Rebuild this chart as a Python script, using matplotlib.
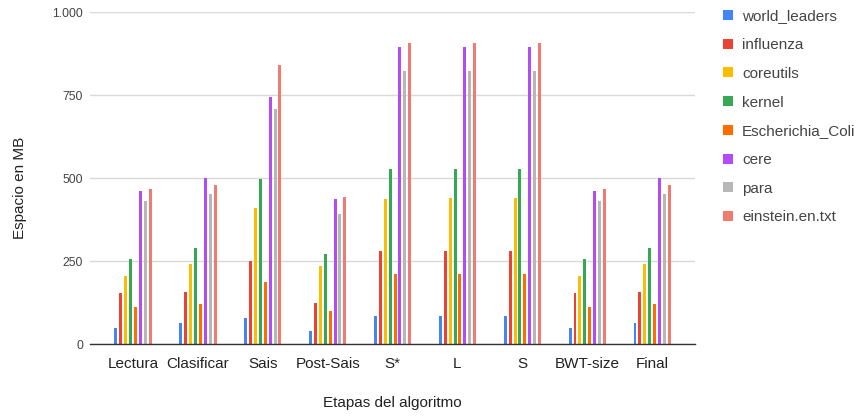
import numpy as np
import matplotlib
matplotlib.use('Agg')
import matplotlib.pyplot as plt
import matplotlib.ticker as mtick
from matplotlib.patches import Rectangle

plt.rcParams['font.family'] = ['Liberation Sans', 'DejaVu Sans']

# Etapas del algoritmo (eje X)
etapas = ['Lectura', 'Clasificar', 'Sais', 'Post-Sais', 'S*', 'L', 'S', 'BWT-size', 'Final']

# Espacio en MB por archivo, en cada etapa
world_leaders = [48, 63, 78, 38, 84, 84, 84, 48, 63]
influenza = [155, 158, 249, 125, 280, 280, 280, 155, 158]
coreutils = [206, 242, 411, 236, 438, 440, 440, 206, 242]
kernel = [256, 289, 497, 271, 527, 527, 527, 256, 290]
escherichia_coli = [113, 120, 188, 98, 212, 212, 212, 113, 120]
cere = [462, 500, 745, 438, 896, 896, 896, 462, 500]
para = [430, 453, 707, 393, 823, 823, 823, 430, 453]
einstein = [468, 480, 840, 442, 908, 908, 908, 468, 480]

series = [
    ('world_leaders', world_leaders, '#4285f4'),
    ('influenza', influenza, '#ea4335'),
    ('coreutils', coreutils, '#fbbc04'),
    ('kernel', kernel, '#34a853'),
    ('Escherichia_Coli', escherichia_coli, '#ff6d01'),
    ('cere', cere, '#b34cf5'),
    ('para', para, '#b7b7b7'),
    ('einstein.en.txt', einstein, '#f07b72'),
]

W, H = 862, 416
fig = plt.figure(figsize=(W / 100, H / 100), dpi=100)
ax = fig.add_axes([0.1044, 0.173, 0.702, 0.798])

x = np.arange(len(etapas))
pitch = 0.076
width = 0.046
n = len(series)
for i, (name, vals, color) in enumerate(series):
    offset = (i - (n - 1) / 2) * pitch
    ax.bar(x + offset, vals, width, color=color, label=name, zorder=3)

ax.set_xlim(-0.66, len(etapas) - 0.34)
ax.set_ylim(0, 1000)
ax.set_yticks([0, 250, 500, 750, 1000])
ax.yaxis.set_major_formatter(mtick.FuncFormatter(lambda v, p: '{:,.0f}'.format(v).replace(',', '.')))
ax.set_xticks(x)
ax.set_xticklabels(etapas, fontsize=11, color='#222222')
ax.tick_params(axis='y', length=0, pad=5, labelsize=8.7, labelcolor='#444444')
ax.tick_params(axis='x', length=0, pad=9)

ax.grid(axis='y', color='#d9d9d9', linewidth=1, zorder=0)
for s in ['top', 'right', 'left']:
    ax.spines[s].set_visible(False)
ax.spines['bottom'].set_color('#333333')
ax.spines['bottom'].set_linewidth(1)
ax.spines['bottom'].set_zorder(4)

ax.set_ylabel('Espacio en MB', fontsize=11, color='#222222')
ax.yaxis.set_label_coords(-0.104, 0.471)
ax.set_xlabel('Etapas del algoritmo', fontsize=11, color='#222222', labelpad=18)

# Leyenda a la derecha: cuadrado de color + nombre, una fila por archivo
for i, (name, vals, color) in enumerate(series):
    yc = 15 + i * 28.7
    fig.add_artist(Rectangle((723 / W, 1 - (yc + 5) / H), 10 / W, 10 / H,
                             transform=fig.transFigure, color=color, lw=0))
    fig.text(742 / W, 1 - yc / H, name, fontsize=11, color='#444444',
             va='center_baseline', ha='left')

fig.savefig('out.png', dpi=100)
